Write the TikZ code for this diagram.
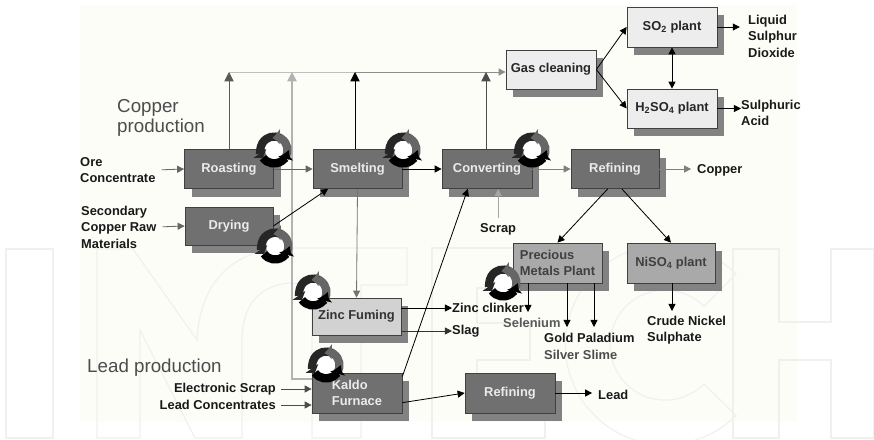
\documentclass[tikz,border=0pt]{standalone}
\usepackage{fontspec}
\setmainfont{Liberation Sans}
\usetikzlibrary{calc}
\usetikzlibrary{arrows.meta}
\usetikzlibrary{shadows}

\definecolor{papercol}{HTML}{FDFDF8}
\definecolor{markcol}{HTML}{F0F0EC}
\definecolor{darkcol}{HTML}{707070}
\definecolor{shadecol}{HTML}{828282}
\definecolor{midcol}{HTML}{A9A9A9}
\definecolor{palecol}{HTML}{D2D2D2}
\definecolor{lightcol}{HTML}{EDEDED}

\tikzset{
  boxsize/.style 2 args={minimum width=#1*0.03cm,minimum height=#2*0.03cm},
  plantbox/.style={draw=black!75,line width=.6pt,inner sep=0pt,align=left,
    font=\bfseries\fontsize{11}{14}\selectfont,
    drop shadow={shadow xshift=6pt,shadow yshift=-7pt,opacity=1,fill=shadecol}},
  darkbox/.style={plantbox,fill=darkcol,text=black!8},
  midbox/.style={plantbox,fill=midcol,text=black!75},
  palebox/.style={plantbox,fill=palecol,text=black!80},
  lightbox/.style={plantbox,fill=lightcol,text=black!85},
  outlabel/.style={inner sep=0pt,anchor=west,align=left,text=black!90,
    font=\bfseries\fontsize{11}{14}\selectfont},
  title/.style={inner sep=0pt,anchor=west,align=left,text=black!70,
    font=\fontsize{16}{17}\selectfont},
  flow/.style={line width=.7pt,-{Triangle[length=6pt,width=6pt]}},
  upflow/.style={line width=.8pt,-{Triangle[length=8pt,width=8pt]}},
  ring/.style={line width=7pt,-{Triangle[length=4.5pt,width=13pt]}},
}

\begin{document}
\begin{tikzpicture}[x=0.03cm,y=-0.03cm]

\useasboundingbox (0,0) rectangle (874,439);
\fill[white] (0,0) rectangle (874,439);
\fill[papercol] (80,5) rectangle (797,422);

% faint letters behind the chart
\draw[markcol,line width=1pt] (6,249) rectangle (53,438);
\draw[markcol,line width=1pt] (97,438) -- (97,249) -- (133,249) -- (197,340)
  .. controls (200,280) and (235,248) .. (290,248) -- (407,248) -- (407,285)
  -- (361,285) -- (361,438) -- (312,438) -- (312,285) -- (290,283)
  .. controls (260,285) and (242,305) .. (242,340) -- (242,438) -- (195,438)
  -- (140,330) -- (140,438) -- cycle;
\draw[markcol,line width=1pt] (432,438) -- (432,248) -- (540,248) -- (540,288)
  -- (477,288) -- (477,323) -- (530,323) -- (530,360) -- (477,360) -- (477,400)
  -- (545,400) -- (545,438) -- cycle;
\draw[markcol,line width=1pt] (736,274) arc[start angle=-45,end angle=-315,radius=100]
  -- (704,384) arc[start angle=45,end angle=315,radius=55] -- cycle;
\draw[markcol,line width=1pt] (733,438) -- (733,249) -- (779,249) -- (779,322)
  -- (831,322) -- (831,249) -- (874,249) -- (874,438) -- (831,438) -- (831,360)
  -- (779,360) -- (779,438) -- cycle;

\node[darkbox,boxsize={89}{39}] (roasting) at (229,169) {Roasting};
\node[darkbox,boxsize={89}{39}] (smelting) at (357.5,169) {Smelting};
\node[darkbox,boxsize={90}{39}] (converting) at (487,169) {Converting};
\node[darkbox,boxsize={88}{39}] (refining) at (615,169) {Refining};
\node[darkbox,boxsize={88}{38}] (drying) at (229,226) {Drying};
\node[lightbox,boxsize={90}{39}] (gas) at (551,69.5) {Gas cleaning};
\node[lightbox,boxsize={90}{40}] (so2) at (672,27) {SO\textsubscript{2} plant};
\node[lightbox,boxsize={90}{39}] (h2so4) at (672,108.5) {H\textsubscript{2}SO\textsubscript{4} plant};
\node[palebox,boxsize={89}{37}] (zinc) at (356.5,316.5) {Zinc Fuming};
\node[darkbox,boxsize={90}{40}] (kaldo) at (357,393) {Kaldo\\Furnace};
\node[darkbox,boxsize={90}{40}] (leadref) at (510,393) {Refining};
\node[midbox,boxsize={89}{40}] (precious) at (557.5,263) {Precious\\Metals Plant};
\node[midbox,boxsize={88}{40}] (niso4) at (671,263) {NiSO\textsubscript{4} plant};

\node[title] (coppertitle) at (117,118) {Copper\\production};
\node[title] (leadtitle) at (87,368) {Lead production};
\node[outlabel] (ore) at (80,170) {Ore\\Concentrate};
\node[outlabel] (secondary) at (81,227) {Secondary\\Copper Raw\\Materials};
\node[outlabel,anchor=east] (escrap) at (276,389) {Electronic Scrap};
\node[outlabel,anchor=east] (leadcon) at (276,405) {Lead Concentrates};
\node[outlabel] (liquid) at (748,36) {Liquid\\Sulphur\\Dioxide};
\node[outlabel] (sulphuric) at (741,113) {Sulphuric\\Acid};
\node[outlabel] (copper) at (697,170) {Copper};
\node[outlabel] (scrap) at (480,229) {Scrap};
\node[outlabel] (clinker) at (452,308) {Zinc clinker};
\node[outlabel] (slag) at (452,331) {Slag};
\node[outlabel,text=black!65] (selenium) at (503,323) {Selenium};
\node[outlabel] (gold) at (544,338) {Gold Paladium};
\node[outlabel,text=black!70] (silver) at (544,355) {Silver Slime};
\node[outlabel] (crude) at (647,330) {Crude Nickel\\Sulphate};
\node[outlabel] (lead) at (598,395) {Lead};

\coordinate (topline) at (229,72);
\coordinate (smelttop) at (355,72);
\coordinate (convtop) at (486,72);
\coordinate (kaldoturn) at (292,379);
\coordinate (seleniumend) at (528,312);
\coordinate (goldend) at (567,327);
\coordinate (silverend) at (594,327);
\coordinate (crudeend) at (672,311);

% off-gas lines along the top
\draw[black!25,line width=.8pt] (roasting.north |- topline) -- (smelttop);
\draw[black!45,line width=.8pt,flow] (smelttop) -- (gas.west |- topline);
\draw[upflow,black!65] (roasting.north) -- (roasting.north |- topline);
\draw[upflow,black!30,line width=1.2pt] (kaldo.west |- kaldoturn) -- (kaldoturn) -- (kaldoturn |- topline);
\draw[upflow] (smelting.north -| smelttop) -- (smelttop);
\draw[upflow,black!70] (converting.north -| convtop) -- (convtop);

% main route
\draw[flow,black!60,shorten <=5pt] (ore.east) -- (roasting.west);
\draw[flow,black!60] (roasting.east) -- (smelting.west);
\draw[flow] (smelting.east) -- (converting.west);
\draw[flow,black!50] (converting.east) -- (refining.west);
\draw[flow,black!50,shorten >=5pt] (refining.east) -- (refining.east -| copper.west);
\draw[flow,black!60,shorten <=5pt] (secondary.east) -- (drying.west);
\draw[flow] (drying.east) -- (smelting.214);
\draw[flow,black!55] (smelting.south) -- (zinc.north);
\draw[flow] (clinker.west -| zinc.east) -- (clinker.west);
\draw[flow,black!80] (slag.west -| zinc.east) -- (slag.west);
\draw[flow] (kaldo.20) -- (converting.226);
\draw[flow] (kaldo.-12) -- (leadref.west);
\draw[flow,shorten >=5pt] (leadref.east) -- (leadref.east -| lead.west);
\draw[flow,black!35,shorten <=4pt] (scrap.north) -- (scrap.north |- converting.south);
\draw[flow,black!70,shorten <=4pt] (escrap.east) -- (escrap.east -| kaldo.west);
\draw[flow,black!70,shorten <=4pt] (leadcon.east) -- (leadcon.east -| kaldo.west);

% gas side
\draw[flow] (gas.east) -- (so2.west);
\draw[flow] (gas.east) -- (h2so4.west);
\draw[line width=.8pt,{Triangle[length=6pt,width=6pt]}-{Triangle[length=6pt,width=6pt]}] (so2.south) -- (h2so4.north);
\draw[flow,shorten >=7pt] (so2.east) -- (so2.east -| liquid.west);
\draw[flow] (h2so4.east) -- (h2so4.east -| sulphuric.west);

% refining side
\draw[flow] (refining.250) -- (precious.north);
\draw[flow] (refining.289) -- (niso4.north);
\draw[flow] (precious.south -| seleniumend) -- (seleniumend);
\draw[flow] (precious.south -| goldend) -- (goldend);
\draw[flow] (precious.south -| silverend) -- (silverend);
\draw[flow] (niso4.south -| crudeend) -- (crudeend);

% recycle rings
\foreach \cx/\cy in {274/150,403/150,532/150,275/246,313/292,326/365,503/283}{
  \begin{scope}[shift={(\cx,\cy)}]
    \fill[white] (0,0) circle (9);
    \draw[ring,black!85] (-60:13.5) arc[start angle=-60,end angle=-215,radius=13.5];
    \draw[ring,black!60] (35:13.5) arc[start angle=35,end angle=-88,radius=13.5];
    \draw[ring,black] (145:13.5) arc[start angle=145,end angle=15,radius=13.5];
  \end{scope}
}

\end{tikzpicture}
\end{document}
